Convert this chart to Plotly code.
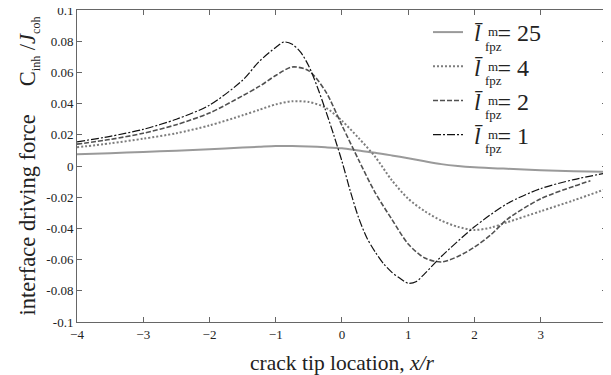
import plotly.graph_objects as go

# crack tip location x/r and normalised interface driving force
x_25 = [-4, -3.5, -3, -2.5, -2, -1.5, -1.25, -1, -0.75, -0.5, -0.25, 0, 0.25, 0.5,
        0.75, 1, 1.25, 1.5, 1.75, 2, 2.5, 3, 3.5, 4]
y_25 = [0.0075, 0.0082, 0.009, 0.0098, 0.0107, 0.0118, 0.0123, 0.0128, 0.0128, 0.0125,
        0.012, 0.0113, 0.0099, 0.0085, 0.0068, 0.005, 0.003, 0.0012, 0.0, -0.0008,
        -0.0018, -0.0027, -0.0033, -0.0038]

x_4 = [-4, -3.5, -3, -2.5, -2, -1.5, -1.25, -1, -0.75, -0.5, -0.25, 0, 0.25, 0.5,
       0.75, 1, 1.25, 1.5, 1.75, 2, 2.25, 2.5, 3, 3.5, 4]
y_4 = [0.012, 0.0145, 0.0175, 0.021, 0.026, 0.0325, 0.036, 0.0395, 0.0415, 0.041,
       0.0375, 0.029, 0.018, 0.006, -0.009, -0.021, -0.029, -0.035, -0.039, -0.041,
       -0.0395, -0.036, -0.029, -0.022, -0.0145]

x_2 = [-4, -3.5, -3, -2.5, -2, -1.5, -1.25, -1, -0.75, -0.5, -0.25, 0, 0.25, 0.5,
       0.75, 1, 1.25, 1.5, 1.75, 2, 2.25, 2.5, 3, 3.5, 3.75]
y_2 = [0.014, 0.017, 0.021, 0.0265, 0.034, 0.045, 0.051, 0.058, 0.0635, 0.061, 0.048,
       0.026, 0.004, -0.017, -0.034, -0.05, -0.059, -0.0615, -0.058, -0.052, -0.044,
       -0.034, -0.021, -0.013, -0.0095]

x_1 = [-4, -3.5, -3, -2.5, -2, -1.5, -1.25, -1, -0.875, -0.75, -0.625, -0.5, -0.375,
       -0.25, -0.125, 0, 0.125, 0.25, 0.375, 0.5, 0.625, 0.75, 0.875, 1, 1.125, 1.25,
       1.5, 2, 2.5, 3, 3.5, 4]
y_1 = [0.0155, 0.019, 0.0235, 0.03, 0.039, 0.055, 0.067, 0.076, 0.0795, 0.078, 0.073,
       0.064, 0.051, 0.036, 0.02, 0.003, -0.016, -0.033, -0.046, -0.055, -0.0625, -0.068,
       -0.072, -0.0752, -0.074, -0.069, -0.058, -0.039, -0.024, -0.0145, -0.0087, -0.0044]

x_ticks = [-4, -3, -2, -1, 0, 1, 2, 3, 4]
y_ticks = [-0.1, -0.08, -0.06, -0.04, -0.02, 0, 0.02, 0.04, 0.06, 0.08, 0.1]
y_tick_text = ["-0.1", "-0.08", "-0.06", "-0.04", "-0.02", "0", "0.02", "0.04", "0.06", "0.08", "0.1"]

labels = ["= 25", "= 4", "= 2", "= 1"]

SERIF = "Times New Roman, Liberation Serif, serif"
NB = "\u00a0"

# the page body adds 8px around the figure
W, H = 603, 367
L, R, T, B = 69, 4, 2, 53
PW, PH = W - L - R, H - T - B


def px_to_paper(x, y):
    # figure pixel (from top-left) -> paper coords
    return (x - L) / PW, (H - B - y) / PH


def small_sub(s):
    return "<sub><span style='font-size:12px'>" + s + "</span></sub>"


series = [
    (x_25, y_25, labels[0], "#9a9a9a", 2.0, "solid"),
    (x_4, y_4, labels[1], "#7d7d7d", 2.0, "2px,2px"),
    (x_2, y_2, labels[2], "#505050", 1.6, "5px,2px"),
    (x_1, y_1, labels[3], "#111111", 1.2, "8px,2px,2px,2px"),
]

fig = go.Figure()
for i, (xs, ys, lab, color, width, dash) in enumerate(series):
    fig.add_trace(
        go.Scatter(
            x=xs,
            y=ys,
            mode="lines",
            name=NB + "<i>l\u0304</i>" + NB * 2 + "\u2009" + lab,
            legendgroup=str(i),
            line={"color": color, "width": width, "dash": dash, "shape": "spline", "smoothing": 0.8},
        )
    )

# stacked super/subscript of each legend label
row_y = [27, 61.2, 95.4, 129.6]
for ry in row_y:
    for txt, dy in (("m", -3), ("fpz", 11)):
        ax, ay = px_to_paper(485, ry + dy)
        fig.add_annotation(
            text=txt, xref="paper", yref="paper", x=ax, y=ay,
            xanchor="center", yanchor="middle",
            showarrow=False, font={"family": SERIF, "size": 13, "color": "#222"},
        )

axis_common = dict(
    showline=True, linecolor="#666", linewidth=1, mirror="ticks",
    ticks="inside", ticklen=5, tickcolor="#666", showgrid=False, zeroline=False,
    ticklabeloverflow="allow",
)

lx, ly = px_to_paper(420, 2)
fig.update_layout(
    width=W,
    height=H,
    margin={"l": L, "r": R, "t": T, "b": B, "autoexpand": False},
    plot_bgcolor="white",
    paper_bgcolor="white",
    font={"family": SERIF, "color": "#222"},
    showlegend=True,
    legend={
        "x": lx, "y": ly, "xanchor": "left", "yanchor": "top",
        "font": {"family": SERIF, "size": 24, "color": "#222"},
        "bgcolor": "rgba(0,0,0,0)", "tracegroupgap": 0, "itemwidth": 30,
    },
)
fig.update_xaxes(
    range=[-4, 4.001], tickvals=x_ticks, tickfont={"size": 13},
    title={"text": "crack tip location, <i>x/r</i>", "font": {"size": 21.5}, "standoff": 16},
    **axis_common,
)
fig.update_yaxes(
    range=[-0.1, 0.1], tickvals=y_ticks, ticktext=y_tick_text, tickfont={"size": 13},
    title={"text": "interface driving force" + NB * 5 + "C" + small_sub("inh")
                   + " /<i>J</i>" + small_sub("coh"),
           "font": {"size": 22.5}, "standoff": 4},
    **axis_common,
)

fig.write_html("out.html")
